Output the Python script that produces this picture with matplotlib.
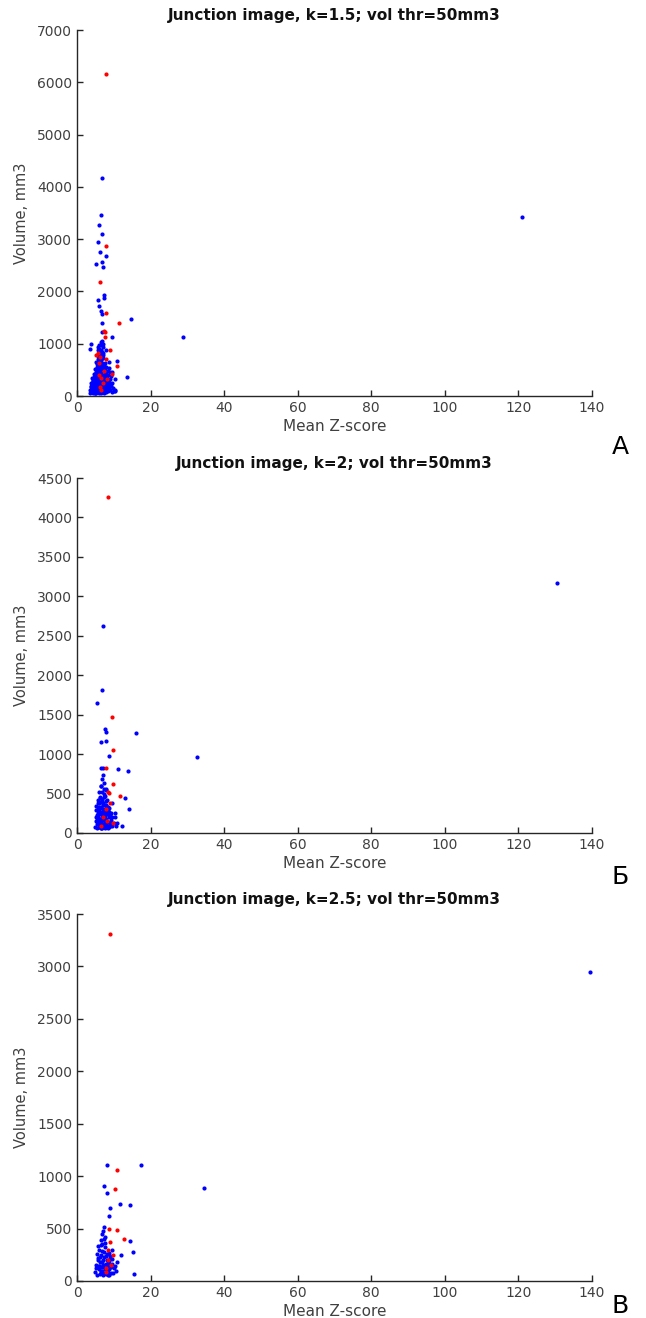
import matplotlib
matplotlib.use("Agg")
import matplotlib.pyplot as plt

# ---- panel A: k=1.5 ----
a_blue_x = [6.8, 121.0, 28.9, 14.7, 13.5, 6.6, 6.0, 6.7, 5.7, 6.2, 7.8, 6.8, 5.1, 7.0,
            7.4, 7.3, 5.8, 6.0, 6.4, 6.9, 6.9, 6.8, 9.5, 6.4, 6.0, 5.7, 3.7, 3.5, 8.0,
            10.8, 10.3, 10.4, 9.4,
            3.6, 3.8, 4.0, 4.1, 4.3, 4.4, 4.5, 4.6, 4.7, 4.8, 4.9, 5.0, 5.1, 5.2, 5.2,
            5.3, 5.4, 5.5, 5.5, 5.6, 5.7, 5.7, 5.8, 5.9, 5.9, 6.0, 6.0, 6.1, 6.1, 6.2,
            6.2, 6.3, 6.3, 6.4, 6.4, 6.5, 6.5, 6.6, 6.6, 6.7, 6.7, 6.8, 6.8, 6.9, 6.9,
            7.0, 7.0, 7.1, 7.1, 7.2, 7.2, 7.3, 7.3, 7.4, 7.5, 7.5, 7.6, 7.7, 7.8, 7.9,
            8.0, 8.1, 8.2, 8.3, 8.5, 8.7, 8.9, 9.1, 9.4, 9.7, 10.0, 10.3, 4.2, 4.6, 5.0,
            5.4, 5.8, 6.2, 6.4, 6.6, 6.9, 7.1, 7.4, 5.3, 4.8, 5.6, 6.0, 6.3, 6.7, 7.6,
            8.4, 8.8, 9.2, 9.0, 3.9, 4.4, 5.1, 5.9, 6.5, 7.8, 8.6, 8.0, 6.1, 5.5, 6.8,
            7.2, 6.0, 7.0, 5.7, 4.5, 4.9, 5.3, 5.6, 6.1, 6.4, 6.9, 7.3, 5.0, 5.8, 6.6,
            7.7, 4.7, 6.2, 5.2, 6.0,
            4.0, 4.2, 4.4, 4.6, 4.8, 5.0, 5.2, 5.4, 5.6, 5.8, 6.0, 6.2, 6.4, 6.6, 6.8,
            7.0, 7.2, 7.4, 7.6, 7.8, 8.0, 8.2, 8.4, 8.6, 8.8, 9.0, 9.3, 9.6,
            4.1, 4.3, 4.5, 4.7, 4.9, 5.1, 5.3, 5.5, 5.7, 5.9, 6.1, 6.3, 6.5, 6.7, 6.9,
            7.1, 7.3, 7.5, 7.7, 7.9, 8.1, 8.3, 8.5, 8.7,
            3.5, 3.7, 3.9, 4.5, 5.0, 5.5, 6.0, 6.5, 7.0, 7.5, 8.0, 5.2, 5.8, 6.4, 7.0,
            6.2, 6.8, 5.6]
a_blue_y = [4170, 3430, 1120, 1466, 370, 3467, 3270, 3103, 2938, 2753, 2670, 2568, 2530,
            2467, 1931, 1868, 1829, 1721, 1619, 1568, 1390, 1230, 1122, 1038, 975, 943,
            994, 898, 871, 663, 330, 100, 450,
            60, 90, 120, 70, 150, 210, 80, 260, 110, 330, 60, 180, 140, 95, 290,
            400, 230, 70, 160, 350, 120, 480, 200, 90, 270, 560, 150, 60, 330, 110,
            430, 190, 620, 80, 250, 380, 140, 690, 60, 300, 170, 510, 100, 220, 850,
            70, 400, 130, 280, 930, 180, 60, 350, 240, 110, 460, 160, 300, 80, 210,
            130, 380, 260, 90, 170, 310, 120, 230, 70, 160, 90, 110, 340, 420, 520,
            610, 700, 760, 880, 980, 1060, 720, 590, 50, 250, 300, 380, 470, 560, 640,
            480, 540, 380, 460, 180, 55, 370, 440, 530, 420, 650, 560, 650, 560, 760,
            820, 900, 1000, 880, 140, 200, 120, 240, 90, 160, 130, 70, 60, 100, 220,
            190, 320, 280, 180, 110,
            240, 190, 310, 130, 380, 260, 450, 170, 520, 320, 210, 590, 150, 440, 270,
            610, 350, 190, 520, 230, 300, 140, 400, 240, 180, 330, 200, 250,
            90, 280, 150, 200, 430, 310, 240, 330, 260, 170, 460, 360, 280, 140, 340,
            230, 520, 280, 370, 120, 210, 160, 220, 140,
            120, 200, 240, 360, 280, 420, 480, 330, 560, 240, 330, 650, 560, 720, 790,
            830, 640, 770]
a_red_x = [7.8, 11.4, 7.8, 6.3, 7.9, 7.3, 7.7, 7.5, 8.9, 5.8, 5.2, 6.2, 8.0, 10.8, 9.4,
           6.0, 6.6, 7.3, 5.9, 7.0, 6.2, 8.2, 6.4]
a_red_y = [6150, 1402, 2874, 2174, 1593, 1237, 1218, 1122, 873, 816, 784, 752, 714, 580,
           420, 400, 120, 470, 640, 240, 180, 320, 340]

# ---- panel B: k=2 ----
b_blue_x = [130.5, 32.5, 7.2, 6.7, 5.5, 7.5, 7.9, 16.0, 6.4, 7.8, 8.6, 6.5, 7.0, 11.1,
            13.8, 13.0, 14.2, 10.3, 10.5, 12.1,
            5.0, 5.2, 5.4, 5.5, 5.6, 5.8, 5.9, 6.0, 6.1, 6.2, 6.3, 6.4, 6.5, 6.6, 6.7,
            6.8, 6.9, 7.0, 7.1, 7.2, 7.3, 7.4, 7.5, 7.6, 7.7, 7.8, 7.9, 8.0, 8.1, 8.2,
            8.4, 8.6, 8.8, 9.0, 9.3, 9.6, 10.0, 5.3, 5.7, 6.1, 6.5, 6.9, 7.3, 7.7, 8.1,
            8.5, 9.2, 6.0, 6.6, 7.0, 7.4, 7.8, 6.3, 6.8, 7.2, 7.6, 8.3, 5.8, 6.2, 9.4,
            7.1, 7.5, 6.7, 8.0, 6.4, 5.6, 7.9, 8.8, 6.9, 7.3,
            5.1, 5.4, 5.7, 6.0, 6.3, 6.6, 6.9, 7.2, 7.5, 7.8, 8.1, 8.4, 8.7, 9.0, 9.5,
            5.2, 5.5, 5.8, 6.1, 6.4, 6.7, 7.0, 7.3, 7.6, 7.9, 8.2, 8.6, 9.1,
            6.0, 6.5, 7.0, 7.5, 8.0, 6.2, 6.8, 7.4, 5.6, 8.9, 10.2, 11.0]
b_blue_y = [3170, 960, 2624, 1811, 1654, 1316, 1282, 1265, 1151, 1164, 977, 825, 825,
            808, 791, 448, 305, 258, 85, 85,
            80, 150, 60, 230, 110, 300, 70, 180, 380, 90, 250, 140, 60, 320, 200,
            110, 430, 70, 160, 270, 90, 500, 130, 210, 60, 350, 120, 180, 90, 240,
            140, 70, 200, 110, 160, 90, 130, 340, 420, 520, 600, 680, 560, 470, 330,
            290, 250, 280, 390, 740, 640, 410, 170, 520, 120, 300, 60, 200, 460, 380,
            360, 240, 260, 560, 100, 130, 90, 320, 190, 80,
            200, 120, 380, 260, 450, 330, 230, 380, 170, 280, 420, 330, 270, 230, 200,
            290, 170, 130, 240, 60, 410, 300, 460, 100, 540, 320, 250, 130,
            330, 600, 220, 350, 150, 80, 60, 70, 250, 90, 200, 130]
b_red_x = [8.3, 9.6, 9.8, 7.8, 9.8, 11.6, 8.5, 8.8, 9.8, 8.0, 7.0, 8.2, 6.6, 8.9]
b_red_y = [4262, 1468, 1053, 828, 625, 473, 524, 503, 123, 300, 200, 150, 90, 380]

# ---- panel C: k=2.5 ----
c_blue_x = [139.5, 34.6, 8.2, 17.3, 7.3, 8.2, 11.7, 14.4, 8.9, 8.7, 7.4, 7.1, 14.4, 15.3,
            15.4,
            5.0, 5.3, 5.5, 5.7, 5.9, 6.0, 6.2, 6.3, 6.5, 6.6, 6.8, 6.9, 7.0, 7.2, 7.3,
            7.5, 7.6, 7.8, 7.9, 8.0, 8.2, 8.4, 8.6, 8.8, 9.0, 9.3, 9.6, 10.0, 10.5, 11.0,
            5.8, 6.4, 6.7, 7.1, 7.4, 7.7, 8.1, 8.5, 9.1, 6.1, 6.9, 7.6, 8.3, 9.4, 12.0,
            5.2, 5.6, 6.0, 6.4, 6.8, 7.2, 7.6, 8.0, 8.4, 8.8, 9.2, 9.8,
            5.5, 6.2, 6.9, 7.5, 8.2, 8.7, 9.5, 7.0, 7.8, 6.6, 8.9, 10.3, 7.3]
c_blue_y = [2950, 890, 1102, 1102, 905, 835, 730, 727, 692, 619, 511, 479, 384, 276,
            67,
            90, 150, 60, 220, 110, 300, 70, 180, 250, 90, 350, 130, 60, 200, 280,
            110, 420, 160, 70, 240, 130, 90, 190, 110, 150, 80, 210, 120, 100, 180,
            330, 390, 450, 150, 230, 320, 260, 60, 240, 140, 100, 80, 170, 300, 250,
            120, 200, 140, 100, 180, 70, 120, 90, 160, 60, 130, 80,
            260, 230, 290, 360, 200, 270, 160, 150, 110, 340, 220, 140, 400]
c_red_x = [8.9, 11.0, 10.4, 8.8, 10.8, 12.8, 9.1, 8.0, 8.5, 9.3, 7.8, 9.7, 8.3]
c_red_y = [3311, 1060, 879, 495, 482, 397, 374, 120, 200, 150, 90, 250, 300]

titles = ["Junction image, k=1.5; vol thr=50mm3",
          "Junction image, k=2; vol thr=50mm3",
          "Junction image, k=2.5; vol thr=50mm3"]
panel_letters = ["А", "Б", "В"]
ymax = [7000, 4500, 3500]
ystep = [1000, 500, 500]

W, H = 646, 1318
fig = plt.figure(figsize=(W / 100, H / 100), dpi=100)
fig.patch.set_facecolor("white")

# axes boxes in pixels: (left, top, right, bottom)
boxes = [(77, 30, 592, 396), (77, 478, 592, 833), (77, 914, 592, 1281)]
letter_y = [447, 877, 1306]

data = [(a_blue_x, a_blue_y, a_red_x, a_red_y),
        (b_blue_x, b_blue_y, b_red_x, b_red_y),
        (c_blue_x, c_blue_y, c_red_x, c_red_y)]

axcol = "#262626"
for i in range(3):
    l, t, r, b = boxes[i]
    ax = fig.add_axes([l / W, 1 - b / H, (r - l) / W, (b - t) / H])
    bx, by, rx, ry = data[i]
    ax.scatter(bx, by, s=9, c="#0000ff", linewidths=0, zorder=3)
    ax.scatter(rx, ry, s=9, c="#ff0000", linewidths=0, zorder=4)
    ax.set_xlim(0, 140)
    ax.set_ylim(0, ymax[i])
    ax.set_xticks(range(0, 141, 20))
    ax.set_yticks(range(0, ymax[i] + 1, ystep[i]))
    for s in ["top", "right"]:
        ax.spines[s].set_visible(False)
    for s in ["left", "bottom"]:
        ax.spines[s].set_color(axcol)
        ax.spines[s].set_linewidth(1.0)
    ax.tick_params(direction="in", length=4, width=1, colors=axcol,
                   labelsize=10, labelcolor="#404040")
    ax.set_xlabel("Mean Z-score", fontsize=11, color="#404040", labelpad=3)
    ax.set_ylabel("Volume, mm3", fontsize=10.5, color="#404040", labelpad=6)
    ax.set_title(titles[i], fontsize=11, fontweight="bold", color="#111111", pad=7)
    fig.text(620 / W, 1 - letter_y[i] / H, panel_letters[i], fontsize=18,
             ha="center", va="center", color="black")

fig.savefig("out.png", dpi=100, facecolor="white")
